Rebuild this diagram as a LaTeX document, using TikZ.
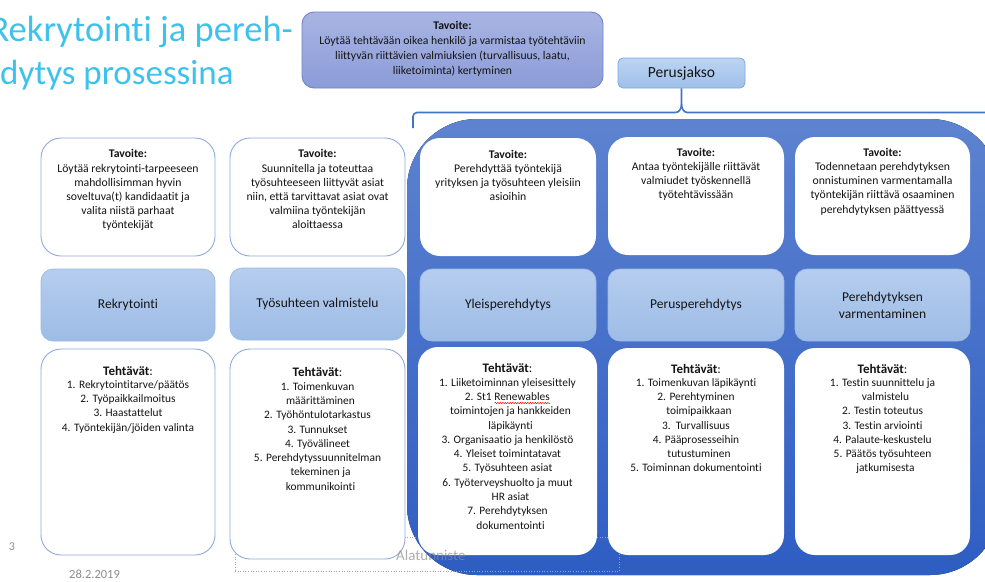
\documentclass[tikz,border=0pt]{standalone}
\usepackage{fontspec}
\setmainfont{Carlito}[Ligatures=NoCommon]
\usetikzlibrary{decorations.pathmorphing}
\newlength\wavelen
\newcommand\spellwave[1]{\settowidth{\wavelen}{#1}\makebox[0pt][l]{#1}\tikz[baseline=0pt, x=1pt, y=1pt]{\draw[red, line width=0.45pt, decorate, decoration={snake, amplitude=0.7pt, segment length=2.5pt}] (0,-2.6) -- (\wavelen,-2.6);}}
\definecolor{titlecyan}{HTML}{3DC2EE}
\definecolor{bordblue}{HTML}{8EA9DB}
\definecolor{phasetop}{HTML}{B6CDEE}
\definecolor{phasebot}{HTML}{9DBCE6}
\definecolor{phasebord}{HTML}{9BBAE4}
\definecolor{goaltop}{HTML}{A8B4E3}
\definecolor{goalbot}{HTML}{8C9CD7}
\definecolor{goalbord}{HTML}{6F84C9}
\definecolor{pjtop}{HTML}{BCD4F2}
\definecolor{pjbot}{HTML}{9FC0EA}
\definecolor{pjbord}{HTML}{7DA8DD}
\definecolor{bigtop}{HTML}{5D83D0}
\definecolor{bigbot}{HTML}{2E5DC3}
\definecolor{bracecol}{HTML}{4472C4}
\definecolor{footgray}{HTML}{8C8C8C}
\definecolor{txt}{HTML}{141414}
\tikzset{
  whitebox/.style={draw=bordblue, line width=0.9pt, fill=white, rounded corners=20pt, inner sep=0pt},
  innerbox/.style={fill=white, rounded corners=20pt, inner sep=0pt},
  phasebox/.style={draw=phasebord, line width=0.7pt, top color=phasetop, bottom color=phasebot,
    rounded corners=12pt, inner sep=0pt, text=txt, font=\fontsize{13.5}{17}\selectfont, align=center},
  goaltext/.style={anchor=north, inner sep=0pt, align=center, text=txt, font=\fontsize{11.7}{14.2}\selectfont},
  taskhead/.style={anchor=north, inner sep=0pt, text=txt, font=\fontsize{13}{15}\selectfont},
  tasklist/.style={anchor=north, inner sep=0pt, align=center, text=txt, font=\fontsize{11.4}{14.3}\selectfont},
  bracepath/.style={draw=bracecol, line width=1.6pt, rounded corners=4pt},
}
\begin{document}
\begin{tikzpicture}[x=1pt,y=-1pt]
\useasboundingbox (0,0) rectangle (985,581);

% title
\node[anchor=base east, inner sep=0pt, text=titlecyan, font=\fontsize{36.5}{42}\selectfont] (title1) at (293,41) {Rekrytointi ja pereh-};
\node[anchor=base west, inner sep=0pt, text=titlecyan, font=\fontsize{35}{42}\selectfont] (title2) at (0,84) {dytys prosessina};

% overall goal
\node[draw=goalbord, line width=0.9pt, top color=goaltop, bottom color=goalbot, rounded corners=12pt,
  minimum width=301pt, minimum height=76pt, inner sep=0pt] (goal) at (452.5,50) {};
\node[goaltext, font=\fontsize{11.7}{14.7}\selectfont] (goalt) at ([yshift=-10pt]goal.north)
  {\textbf{Tavoite:}\\Löytää tehtävään oikea henkilö ja varmistaa työtehtäviin\\liittyvän riittävien valmiuksien (turvallisuus, laatu,\\liiketoiminta) kertyminen};

% big blue background
\fill[top color=bigtop, bottom color=bigbot, rounded corners=70pt] (407,119) rectangle (1000,575);

% footer dotted box
\node[draw=footgray!80, dotted, line width=0.6pt, minimum width=384pt, minimum height=34pt, inner sep=0pt] (footbox) at (427,554) {};

% Perusjakso + brace
\node[draw=pjbord, line width=0.8pt, top color=pjtop, bottom color=pjbot, rounded corners=5pt,
  minimum width=127pt, minimum height=30pt, inner sep=0pt, text=txt, font=\fontsize{15.5}{18}\selectfont] (pj) at (681.5,73) {Perusjakso};
\coordinate (bl) at (413,128);
\coordinate (br) at (1000,112.5);
\coordinate (bc) at (pj.south |- 0,104);
\draw[bracepath] (bl) -- (413,112.5) -- ([xshift=-6pt]bc |- 0,112.5);
\draw[draw=bracecol, line width=1.6pt] ([xshift=-6pt]bc |- 0,112.5) to[out=0,in=-90] (bc) -- (pj.south);
\draw[draw=bracecol, line width=1.6pt] (bc) to[out=-90,in=180] ([xshift=6pt]bc |- 0,112.5) -- (br);

% row 1: goals
\node[whitebox, minimum width=174pt, minimum height=118pt] (g1) at (128,197) {};
\node[whitebox, minimum width=175pt, minimum height=118pt] (g2) at (317.5,197) {};
\node[innerbox, minimum width=176pt, minimum height=118pt] (g3) at (508,197) {};
\node[innerbox, minimum width=176pt, minimum height=118pt] (g4) at (696,196) {};
\node[innerbox, minimum width=175pt, minimum height=118pt] (g5) at (882.5,196) {};

\node[goaltext] (g1t) at ([yshift=-12pt]g1.north) {\textbf{Tavoite:}\\Löytää rekrytointi-tarpeeseen\\mahdollisimman hyvin\\soveltuva(t) kandidaatit ja\\valita niistä parhaat\\työntekijät};
\node[goaltext] (g2t) at ([yshift=-12pt]g2.north) {\textbf{Tavoite:}\\Suunnitella ja toteuttaa\\työsuhteeseen liittyvät asiat\\niin, että tarvittavat asiat ovat\\valmiina työntekijän\\aloittaessa};
\node[goaltext] (g3t) at ([yshift=-12pt]g3.north) {\textbf{Tavoite:}\\Perehdyttää työntekijä\\yrityksen ja työsuhteen yleisiin\\asioihin};
\node[goaltext] (g4t) at ([yshift=-11pt]g4.north) {\textbf{Tavoite:}\\Antaa työntekijälle riittävät\\valmiudet työskennellä\\työtehtävissään};
\node[goaltext] (g5t) at ([yshift=-11pt]g5.north) {\textbf{Tavoite:}\\Todennetaan perehdytyksen\\onnistuminen varmentamalla\\työntekijän riittävä osaaminen\\perehdytyksen päättyessä};

% row 2: phases
\node[phasebox, minimum width=174pt, minimum height=72pt] (p1) at (128,305) {Rekrytointi};
\node[phasebox, minimum width=175pt, minimum height=72pt] (p2) at (317.5,304) {Työsuhteen valmistelu};
\node[phasebox, minimum width=176pt, minimum height=72pt] (p3) at (508,305) {Yleisperehdytys};
\node[phasebox, minimum width=176pt, minimum height=72pt] (p4) at (696,305) {Perusperehdytys};
\node[phasebox, minimum width=175pt, minimum height=72pt] (p5) at (882.5,305) {Perehdytyksen\\varmentaminen};

% row 3: tasks
\node[whitebox, minimum width=174pt, minimum height=206pt] (t1) at (128,452) {};
\node[whitebox, minimum width=175pt, minimum height=210pt] (t2) at (317.5,454) {};
\node[innerbox, minimum width=179pt, minimum height=208pt] (t3) at (507.5,451) {};
\node[innerbox, minimum width=176pt, minimum height=207pt] (t4) at (696,451.5) {};
\node[innerbox, minimum width=175pt, minimum height=207pt] (t5) at (882.5,451.5) {};

\node[taskhead] (t1h) at (128,366) {\textbf{Tehtävät}:};
\node[taskhead] (t2h) at (317.5,367) {\textbf{Tehtävät}:};
\node[taskhead] (t3h) at (507.5,363) {\textbf{Tehtävät}:};
\node[taskhead] (t4h) at (696,364) {\textbf{Tehtävät}:};
\node[taskhead] (t5h) at (882.5,364) {\textbf{Tehtävät}:};

\node[tasklist] (t1l) at (128,380) {1. Rekrytointitarve/päätös\\2. Työpaikkailmoitus\\3. Haastattelut\\4. Työntekijän/jöiden valinta};
\node[tasklist] (t2l) at (317.5,382) {1. Toimenkuvan\\\hspace*{6pt}määrittäminen\\2. Työhöntulotarkastus\\3. Tunnukset\\4. Työvälineet\\5. Perehdytyssuunnitelman\\\hspace*{6pt}tekeminen ja\\\hspace*{6pt}kommunikointi};
\node[tasklist] (t3l) at (507.5,378) {1. Liiketoiminnan yleisesittely\\2. St1 \spellwave{Renewables}\\\hspace*{6pt}toimintojen ja hankkeiden\\\hspace*{6pt}läpikäynti\\3. Organisaatio ja henkilöstö\\4. Yleiset toimintatavat\\5. Työsuhteen asiat\\6. Työterveyshuolto ja muut\\\hspace*{6pt}HR asiat\\7. Perehdytyksen\\\hspace*{6pt}dokumentointi};
\node[tasklist] (t4l) at (696,378) {1. Toimenkuvan läpikäynti\\2. Perehtyminen\\\hspace*{6pt}toimipaikkaan\\3.\ \ Turvallisuus\\4. Pääprosesseihin\\\hspace*{6pt}tutustuminen\\5. Toiminnan dokumentointi};
\node[tasklist] (t5l) at (882.5,378) {1. Testin suunnittelu ja\\\hspace*{6pt}valmistelu\\2. Testin toteutus\\3. Testin arviointi\\4. Palaute-keskustelu\\5. Päätös työsuhteen\\\hspace*{6pt}jatkumisesta};

% footer
\node[inner sep=0pt, text=footgray, font=\fontsize{12}{14}\selectfont] (pagenum) at (12,547) {3};
\node[anchor=west, inner sep=0pt, text=footgray, font=\fontsize{12.5}{15}\selectfont] (date) at (69,574.5) {28.2.2019};
\node[anchor=west, inner sep=0pt, text=footgray, opacity=0.7, font=\fontsize{15}{17}\selectfont] (foottext) at (396,555) {Alatunniste};
\end{tikzpicture}
\end{document}
